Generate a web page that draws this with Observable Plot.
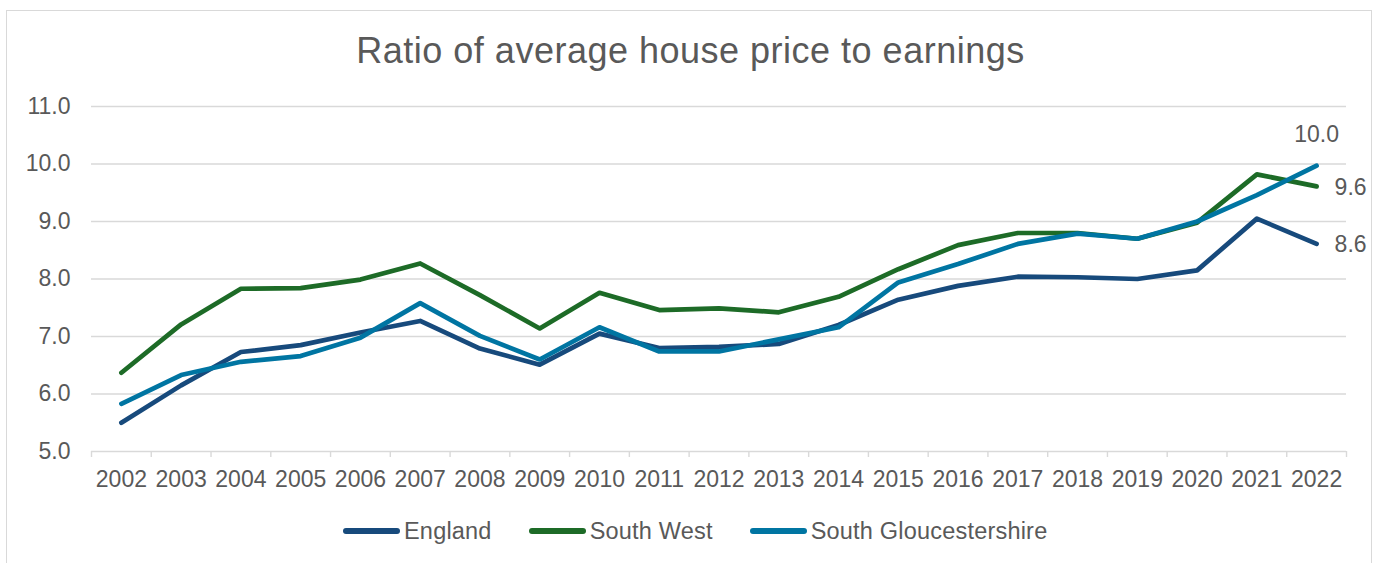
<!DOCTYPE html>
<html>
<head>
<meta charset="utf-8">
<script src="https://cdn.jsdelivr.net/npm/d3@7"></script>
<script src="https://cdn.jsdelivr.net/npm/@observablehq/plot@0.6"></script>
<style>
  html, body { margin: 0; padding: 0; background: #fff; overflow: hidden; }
  body { width: 1381px; height: 563px; position: relative; font-family: "Liberation Sans", Arial, sans-serif; color: #595959; }
  #frame { position: absolute; left: 6px; top: 10px; width: 1366px; height: 620px; border: 1.5px solid #d9d9d9; box-sizing: border-box; }
  #title { position: absolute; left: 0; top: 30px; width: 1381px; text-align: center; font-size: 36px; letter-spacing: 0.5px; line-height: normal; white-space: nowrap; }
  #chart { position: absolute; left: 0; top: 90px; }
  #legend { position: absolute; left: 343px; top: 518px; height: 26px; display: flex; align-items: center; font-size: 23.5px; letter-spacing: 0.2px; white-space: nowrap; }
  .item { display: flex; align-items: center; margin-right: 37px; }
  .swatch { width: 57px; height: 6px; border-radius: 3px; margin-right: 4px; }
</style>
</head>
<body>
<div id="frame"></div>
<div id="title">Ratio of average house price to earnings</div>
<div id="chart"></div>
<div id="legend"></div>
<script>
const years = ["2002","2003","2004","2005","2006","2007","2008","2009","2010","2011","2012","2013","2014","2015","2016","2017","2018","2019","2020","2021","2022"];
const seriesNames = ["England", "South West", "South Gloucestershire"];
const seriesColors = ["#174A7C", "#1D6B27", "#0075A2"];
const england   = [5.50, 6.15, 6.73, 6.85, 7.07, 7.27, 6.79, 6.51, 7.05, 6.80, 6.82, 6.87, 7.20, 7.64, 7.88, 8.04, 8.03, 8.00, 8.15, 9.05, 8.61];
const southWest = [6.37, 7.21, 7.83, 7.84, 7.99, 8.27, 7.72, 7.14, 7.76, 7.46, 7.49, 7.42, 7.69, 8.17, 8.59, 8.80, 8.80, 8.70, 8.98, 9.82, 9.61];
const southGlos = [5.83, 6.33, 6.56, 6.66, 6.98, 7.58, 7.01, 6.60, 7.16, 6.74, 6.74, 6.95, 7.16, 7.94, 8.26, 8.61, 8.79, 8.70, 9.00, 9.46, 9.97];
const yTicks = [5, 6, 7, 8, 9, 10, 11];

const seriesValues = [england, southWest, southGlos];
const rows = seriesNames.flatMap((name, s) => years.map((year, i) => ({series: name, year, value: seriesValues[s][i]})));
const lastRows = seriesNames.map((name, s) => ({series: name, year: years[years.length - 1], value: seriesValues[s][years.length - 1]}));
const fmt = d3.format(".1f");

const W = 1381, H = 400, mL = 91, mR = 35;
const step = (W - mL - mR) / years.length;

const chart = Plot.plot({
  width: W, height: H,
  marginTop: 16, marginBottom: 39, marginLeft: mL, marginRight: mR,
  style: {fontFamily: '"Liberation Sans", Arial, sans-serif', fontSize: "23px", color: "#595959", background: "transparent", overflow: "visible"},
  x: {type: "point", domain: years, padding: 0.5, round: false, label: null},
  y: {domain: [5, 11], label: null},
  color: {domain: seriesNames, range: seriesColors},
  marks: [
    Plot.ruleY(yTicks, {stroke: "#d9d9d9", strokeWidth: 1.4}),
    Plot.axisX({ticks: years, tickSize: 6, tickFormat: () => "", dx: -step / 2, stroke: "#d9d9d9", strokeWidth: 1.4, strokeOpacity: 1}),
    Plot.axisX({ticks: years.slice(-1), tickSize: 6, tickFormat: () => "", dx: step / 2, stroke: "#d9d9d9", strokeWidth: 1.4, strokeOpacity: 1}),
    Plot.axisX({ticks: years, tickSize: 0, tickPadding: 19, fill: "#595959"}),
    Plot.axisY({ticks: yTicks, tickSize: 0, tickPadding: 21, tickFormat: fmt, fill: "#595959"}),
    Plot.line(rows, {x: "year", y: "value", z: "series", stroke: "series", strokeWidth: 4.7, strokeLinecap: "round", strokeLinejoin: "round"}),
    Plot.text(lastRows.filter(d => d.series === "South Gloucestershire"), {x: "year", y: "value", text: d => fmt(d.value), dy: -31, fill: "#595959"}),
    Plot.text(lastRows.filter(d => d.series !== "South Gloucestershire"), {x: "year", y: "value", text: d => fmt(d.value), dx: 18, dy: 1, textAnchor: "start", fill: "#595959"})
  ]
});
document.getElementById("chart").appendChild(chart);

const legend = document.getElementById("legend");
seriesNames.forEach((name, i) => {
  const item = document.createElement("div");
  item.className = "item";
  const sw = document.createElement("span");
  sw.className = "swatch";
  sw.style.background = seriesColors[i];
  const label = document.createElement("span");
  label.textContent = name;
  item.appendChild(sw);
  item.appendChild(label);
  legend.appendChild(item);
});
</script>
</body>
</html>
